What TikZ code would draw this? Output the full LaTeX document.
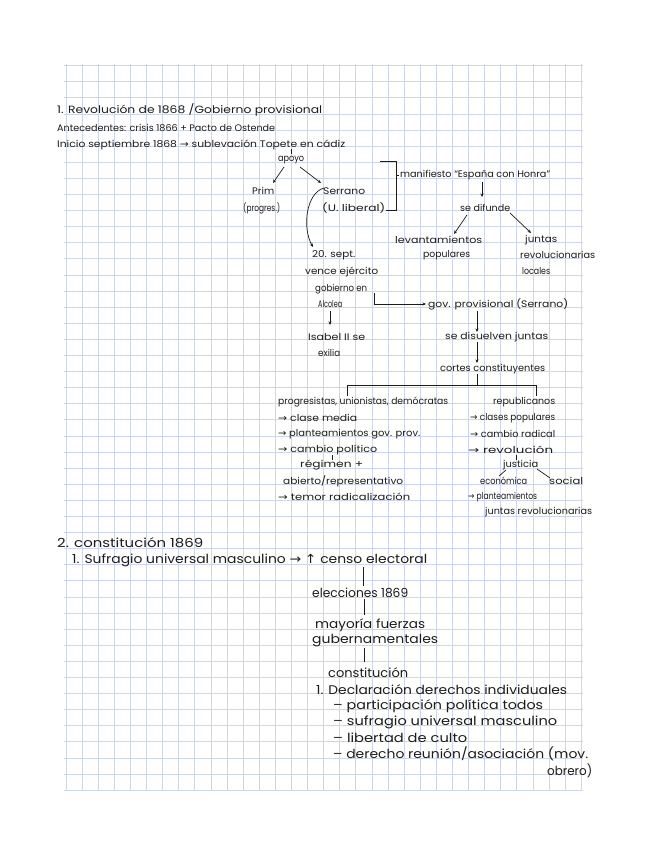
\documentclass[tikz,border=0pt]{standalone}
\usepackage{fontspec}
\usepackage{graphicx}
\setmainfont{Poppins}
\newfontfamily\arr{DejaVu Sans}
\usetikzlibrary{arrows.meta}
\definecolor{gridc}{HTML}{CDD7E9}
\definecolor{ink}{HTML}{1C1C1C}
\newcommand\fw[2]{\resizebox{#1pt}{\height}{#2}}
\newcommand\ra{{\arr →}}
\newcommand\ua{{\arr ↑}}
\tikzset{
  gridline/.style={draw=gridc, line width=0.7pt},
  txt/.style={inner sep=0pt, anchor=west, text=ink, font=\fontsize{9.5}{11}\selectfont},
  ttl/.style={txt, font=\fontsize{10.5}{12}\selectfont},
  big/.style={txt, font=\fontsize{12.5}{14}\selectfont},
  ln/.style={draw=ink, line width=0.7pt},
  arw/.style={ln, -{Stealth[length=3.5pt,width=3pt]}}
}
\begin{document}
\begin{tikzpicture}[x=1pt,y=1pt]
\useasboundingbox (0,0) rectangle (648,-848);
\fill[white] (0,0) rectangle (648,-848);
% grid
\foreach \i in {0,...,32} \draw[gridline] ({66+16.1*\i},-64) -- ({66+16.1*\i},-791);
\foreach \j in {0,...,45} \draw[gridline] (64,{-65.6-16.1*\j}) -- (583,{-65.6-16.1*\j});

% ---------- section 1 ----------
\node[ttl] (t1) at (57,-110) {\fw{265}{1. Revolución de 1868 /Gobierno provisional}};
\node[txt] (ant) at (57,-128) {\fw{218}{Antecedentes: crisis 1866 + Pacto de Ostende}};
\node[txt] (ini) at (57,-145) {\fw{288}{Inicio septiembre 1868 \ra\ sublevación Topete en cádiz}};
\node[txt] (apoyo) at (278,-160) {\fw{26}{apoyo}};
\node[txt] (prim) at (252,-191) {\fw{22}{Prim}};
\node[txt] (progres) at (243,-208) {\fw{37}{(progres.)}};
\node[txt] (serrano) at (323,-191) {\fw{42}{Serrano}};
\node[txt] (ulib) at (322,-208) {\fw{63}{(U. liberal)}};
\node[txt] (mani) at (400,-175) {\fw{150}{manifiesto “España con Honra”}};
\node[txt] (difunde) at (460,-208) {\fw{50}{se difunde}};
\node[txt] (lev) at (395,-240) {\fw{87}{levantamientos}};
\node[txt] (pop) at (423,-255) {\fw{47}{populares}};
\node[txt] (jun) at (525,-240) {\fw{32}{juntas}};
\node[txt] (rev) at (520,-255) {\fw{75}{revolucionarias}};
\node[txt] (loc) at (522,-271) {\fw{28}{locales}};
\node[txt] (sept) at (312,-255) {\fw{43}{20. sept.}};
\node[txt] (vence) at (305,-272) {\fw{73}{vence ejército}};
\node[txt] (gob) at (315,-289) {\fw{52}{gobierno en}};
\node[txt] (alc) at (318,-304) {\fw{24}{Alcolea}};
\node[txt] (isa) at (308,-337) {\fw{57}{Isabel II se}};
\node[txt] (exi) at (318,-353) {\fw{22}{exilia}};
\node[txt] (gov) at (428,-304) {\fw{140}{gov. provisional (Serrano)}};
\node[txt] (dis) at (445,-337) {\fw{103}{se disuelven juntas}};
\node[txt] (cor) at (440,-369) {\fw{105}{cortes constituyentes}};
\node[txt] (prog) at (278,-402) {\fw{170}{progresistas, unionistas, demócratas}};
\node[txt] (repu) at (493,-402) {\fw{62}{republicanos}};
\node[txt] (l1) at (278,-418) {\fw{79}{\ra\ clase media}};
\node[txt] (l2) at (278,-434) {\fw{142}{\ra\ planteamientos gov. prov.}};
\node[txt] (l3) at (278,-450) {\fw{99}{\ra\ cambio político}};
\node[txt] (reg) at (300,-465) {\fw{63}{régimen +}};
\node[txt] (abi) at (283,-481) {\fw{120}{abierto/representativo}};
\node[txt] (l4) at (278,-497) {\fw{132}{\ra\ temor radicalización}};
\node[txt] (r1) at (470,-418) {\fw{85}{\ra\ clases populares}};
\node[txt] (r2) at (470,-434) {\fw{85}{\ra\ cambio radical}};
\node[txt] (r3) at (468,-450) {\fw{85}{\ra\ revolución}};
\node[txt] (jus) at (503,-465) {\fw{35}{justicia}};
\node[txt] (eco) at (480,-481) {\fw{47}{económica}};
\node[txt] (soc) at (549,-481) {\fw{34}{social}};
\node[txt] (r4) at (468,-497) {\fw{69}{\ra\ planteamientos}};
\node[txt] (r5) at (485,-512) {\fw{107}{juntas revolucionarias}};

% connector coordinates
\coordinate (k1a) at (291,-149); \coordinate (k1b) at (291,-154);
\coordinate (a1a) at (284,-167); \coordinate (a1b) at (273,-183);
\coordinate (a2a) at (300,-167); \coordinate (a2b) at (321,-183);
\coordinate (b1) at (380,-161); \coordinate (b2) at (396,-161);
\coordinate (b3) at (396,-210); \coordinate (b4) at (386,-210);
\coordinate (b5) at (396,-175); \coordinate (b6) at (399,-175);
\coordinate (m1) at (482,-182); \coordinate (m2) at (482,-197);
\coordinate (d1) at (467,-215); \coordinate (d2) at (454,-234);
\coordinate (d3) at (510,-213); \coordinate (d4) at (531,-233);
\coordinate (cv1) at (324,-188); \coordinate (cv2) at (313,-247);
\coordinate (al1) at (330,-311); \coordinate (al2) at (330,-325);
\coordinate (e1) at (374,-293); \coordinate (e2) at (374,-304); \coordinate (e3) at (426,-304);
\coordinate (g1) at (477,-311); \coordinate (g2) at (477,-332);
\coordinate (g3) at (477,-342); \coordinate (g4) at (477,-363);
\coordinate (t0) at (477,-374); \coordinate (tc) at (477,-385);
\coordinate (tl) at (347,-385); \coordinate (tr) at (536,-385);
\coordinate (tl2) at (347,-396); \coordinate (tr2) at (536,-396);
\coordinate (k2a) at (332,-455); \coordinate (k2b) at (332,-460);
\coordinate (k3a) at (516,-455); \coordinate (k3b) at (516,-460);
\coordinate (j1) at (506,-470); \coordinate (j2) at (499,-476);
\coordinate (j3) at (537,-469); \coordinate (j4) at (550,-478);

\draw[ln] (k1a) -- (k1b);
\draw[arw] (a1a) -- (a1b);
\draw[arw] (a2a) -- (a2b);
\draw[ln] (b1) -- (b2) -- (b3) -- (b4);
\draw[ln] (b5) -- (b6);
\draw[arw] (m1) -- (m2);
\draw[arw] (d1) -- (d2);
\draw[arw] (d3) -- (d4);
\draw[arw] (cv1) .. controls (306,-193) and (302,-228) .. (cv2);
\draw[arw] (al1) -- (al2);
\draw[arw] (e1) -- (e2) -- (e3);
\draw[arw] (g1) -- (g2);
\draw[arw] (g3) -- (g4);
\draw[ln] (t0) -- (tc);
\draw[ln] (tl2) -- (tl) -- (tr) -- (tr2);
\draw[ln] (k2a) -- (k2b);
\draw[ln] (k3a) -- (k3b);
\draw[ln] (j1) -- (j2);
\draw[ln] (j3) -- (j4);

% ---------- section 2 ----------
\node[big] (s2) at (57,-543) {\fw{146}{2. constitución 1869}};
\node[big] (su) at (72,-560) {\fw{355}{1. Sufragio universal masculino \ra\ \ua\ censo electoral}};
\node[big] (ele) at (312,-593) {\fw{96}{elecciones 1869}};
\node[big] (may) at (315,-625) {\fw{110}{mayoría fuerzas}};
\node[big] (gub) at (312,-641) {\fw{126}{gubernamentales}};
\node[big] (con) at (328,-673) {\fw{80}{constitución}};
\node[big] (dec) at (316,-690) {\fw{251}{1. Declaración derechos individuales}};
\node[big] (p1) at (333,-706) {\fw{210}{– participación política todos}};
\node[big] (p2) at (333,-722) {\fw{224}{– sufragio universal masculino}};
\node[big] (p3) at (333,-738) {\fw{134}{– libertad de culto}};
\node[big] (p4) at (333,-754) {\fw{255}{– derecho reunión/asociación (mov.}};
\node[big] (p5) at (547,-771) {\fw{45}{obrero)}};

\coordinate (v1a) at (363,-567); \coordinate (v1b) at (363,-586);
\coordinate (v2a) at (364,-599); \coordinate (v2b) at (364,-615);
\coordinate (v3a) at (364,-648); \coordinate (v3b) at (364,-662);
\draw[ln] (v1a) -- (v1b);
\draw[ln] (v2a) -- (v2b);
\draw[ln] (v3a) -- (v3b);
\end{tikzpicture}
\end{document}
